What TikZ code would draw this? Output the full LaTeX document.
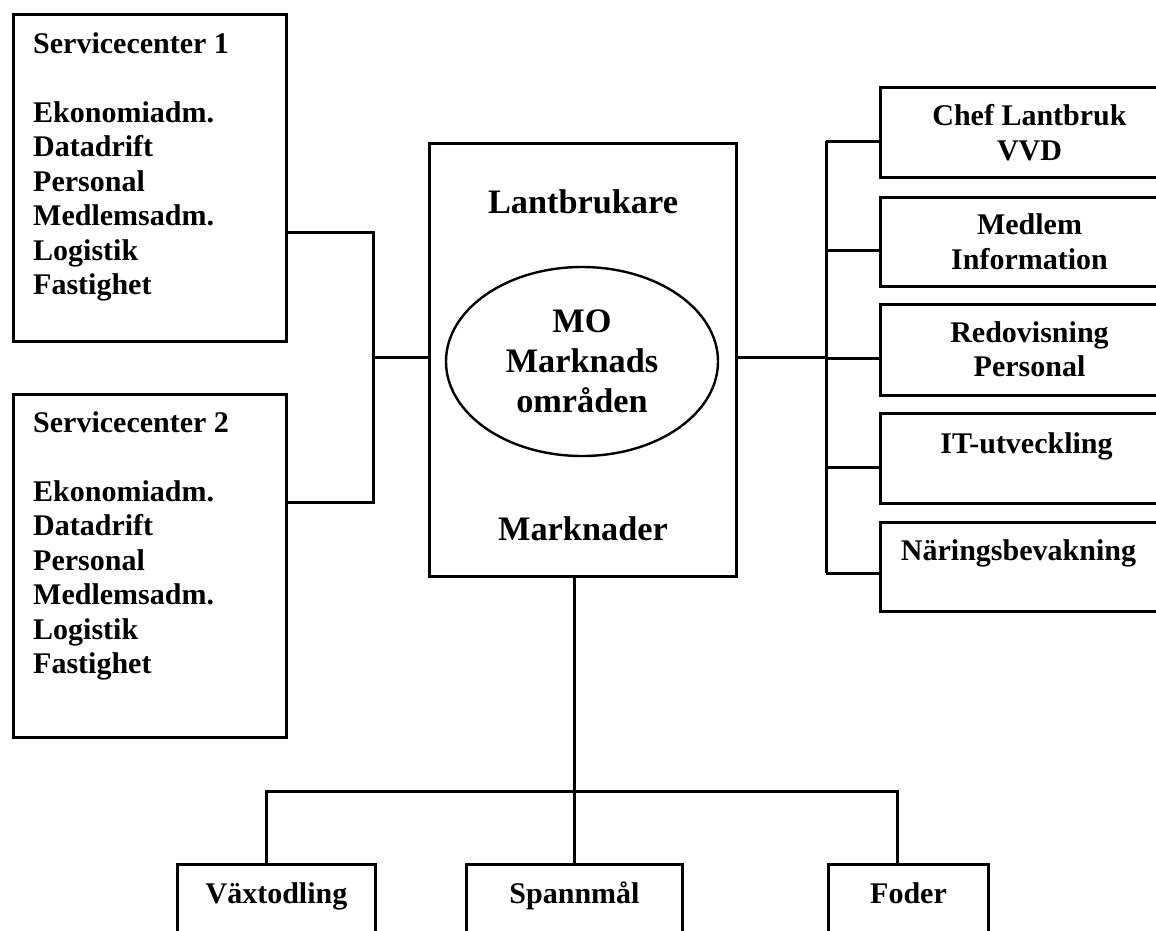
\documentclass[tikz,border=0pt]{standalone}
\usepackage{fontspec}
\setmainfont{Liberation Serif}
\usepackage{tikz}
\usetikzlibrary{calc,positioning,shapes.geometric}

\begin{document}
\begin{tikzpicture}[x=1pt, y=-1pt,
		ruta/.style={draw, line width=3pt, inner sep=0pt, anchor=north west},
		linje/.style={line width=3pt},
		txt/.style={font=\bfseries\fontsize{30}{34.5}\selectfont, inner sep=0pt},
		stor/.style={font=\bfseries\fontsize{34.3}{40}\selectfont, inner sep=0pt, align=center}]
		\useasboundingbox (0,0) rectangle (1156,930);
		\clip (0,0) rectangle (1156,930);
		
		% servicecenter
		\node[ruta, minimum width=273, minimum height=327] (sc1) at (12,13) {};
		\node[ruta, minimum width=273, minimum height=343] (sc2) at (12,393) {};
		\node[txt, align=left, anchor=north west] (sc1txt) at ($(sc1.north west)+(21,19.3)$)
			{Servicecenter 1\\[34.5pt]Ekonomiadm.\\Datadrift\\Personal\\Medlemsadm.\\Logistik\\Fastighet};
		\node[txt, align=left, anchor=north west] (sc2txt) at ($(sc2.north west)+(21,18.3)$)
			{Servicecenter 2\\[34.5pt]Ekonomiadm.\\Datadrift\\Personal\\Medlemsadm.\\Logistik\\Fastighet};
		
		% mitten
		\node[ruta, minimum width=307, minimum height=433] (lant) at (428,142) {};
		\node[stor, anchor=base] (lanttop) at ($(lant.north)+(0,71)$) {Lantbrukare};
		\node[stor, anchor=base] (lantbot) at ($(lant.south)+(0,-38)$) {Marknader};
		\node[stor, draw, ellipse, line width=2.4pt, minimum width=272, minimum height=189] (omr) at (582,361.5)
			{MO\\Marknads\\områden};
		
		% staber till höger
		\foreach \i/\t/\b in {1/86/176, 2/196/285, 3/303/394, 4/412/502, 5/521/610}
			\node[ruta, minimum width=298, minimum height=\b-\t] (r\i) at (879,\t) {};
		\foreach \i/\s/\dy/\dx in {1/{Chef Lantbruk\\VVD}/18.3/0, 2/{Medlem\\Information}/17.7/0,
				3/{Redovisning\\Personal}/18.3/0, 4/{IT-utveckling}/20.3/-3, 5/{Näringsbevakning}/18.3/-11}
			\node[txt, align=center, anchor=north] (r\i txt) at ($(r\i.north)+(\dx,\dy)$) {\s};
		
		% marknader
		\node[ruta, minimum width=198, minimum height=100] (vaxt) at (176,863) {};
		\node[ruta, minimum width=216, minimum height=100] (spann) at (465,863) {};
		\node[ruta, minimum width=160, minimum height=100] (foder) at (827,863) {};
		\node[txt, anchor=base] (vaxttxt) at ($(vaxt.north)+(0,40)$) {Växtodling};
		\node[txt, anchor=base] (spanntxt) at ($(spann.north)+(0,40)$) {Spannmål};
		\node[txt, anchor=base] (fodertxt) at ($(foder.north)+(0,40)$) {Foder};
		
		% linjer vänster
		\coordinate (vt) at (373,232);
		\coordinate (vb) at (373,502);
		\coordinate (vm) at (373,357);
		\draw[linje] (sc1.east |- vt) -- (vt) -- (vb) -- (sc2.east |- vb);
		\draw[linje] (vm) -- (vm -| lant.west);
		
		% linjer höger
		\coordinate (ht) at (826,141);
		\coordinate (hb) at (826,573);
		\coordinate (hm) at (826,357);
		\draw[linje] (ht) -- (hb);
		\draw[linje] (lant.east |- hm) -- (hm);
		\foreach \i/\y in {1/141, 2/250, 3/358, 4/467, 5/573}
			\draw[linje] (826,\y) -- (r\i.west |- 826,\y);
		
		% linjer nedåt
		\coordinate (bl) at (266,791);
		\coordinate (br) at (897,791);
		\draw[linje] (lant.south -| spann.north) -- (spann.north);
		\draw[linje] (vaxt.north -| bl) -- (bl) -- (br) -- (br |- foder.north);
	\end{tikzpicture}
\end{document}
